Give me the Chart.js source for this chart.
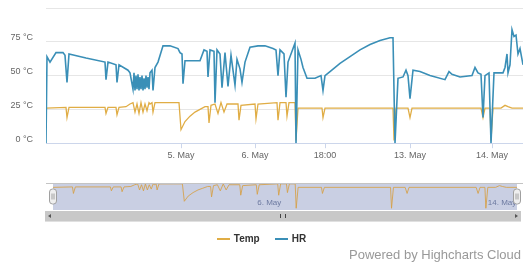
<!DOCTYPE html>
<html>
<head>
    <script src="https://cdn.jsdelivr.net/npm/chart.js"></script>
    <style>
        body {
            margin: 0;
            font-family: "Liberation Sans", Arial, sans-serif;
            background: #ffffff;
        }
        .wrap {
            position: relative;
            width: 523px;
            height: 263px;
            overflow: hidden;
        }
        #mainBox { position: absolute; left: 0; top: 0; width: 523px; height: 163px; }
        #navBox { position: absolute; left: 0; top: 180px; width: 523px; height: 34px; }
        .scrollbar {
            position: absolute; left: 45px; top: 211px; width: 476px; height: 10px;
            background: #c8c8c8; border-bottom: 1px solid #e0e0e0;
        }
        .scrollbar .arrow-l, .scrollbar .arrow-r {
            position: absolute; top: 3px; width: 0; height: 0;
            border-top: 2px solid transparent; border-bottom: 2px solid transparent;
        }
        .scrollbar .arrow-l { left: 3px; border-right: 3px solid #555; }
        .scrollbar .arrow-r { right: 3px; border-left: 3px solid #555; }
        .scrollbar .grip {
            position: absolute; left: 235px; top: 3px; width: 4px; height: 4px;
            border-left: 1px solid #444; border-right: 1px solid #444;
        }
        #legend {
            position: absolute; left: 0; top: 233px; width: 523px;
            display: flex; justify-content: center; gap: 15px;
            font-size: 10px; font-weight: bold; color: #333;
        }
        #legend .item { display: flex; align-items: center; gap: 4px; line-height: 12px; }
        #legend .sym { width: 13px; height: 2px; }
        .credits {
            position: absolute; right: 2px; top: 247px;
            font-size: 13px; color: #999;
        }
    </style>
</head>
<body>
<div class="wrap">
    <div id="mainBox"><canvas id="mainChart"></canvas></div>
    <div id="navBox"><canvas id="navChart"></canvas></div>
    <div class="scrollbar"><span class="arrow-l"></span><span class="grip"></span><span class="arrow-r"></span></div>
    <div id="legend"></div>
    <div class="credits">Powered by Highcharts Cloud</div>
</div>

<script>
// ordinal positions (one unit per reading slot) and readings
const hrPos = [0, 1, 4, 10, 17, 19, 21, 23, 40, 59, 60, 62, 70, 71, 73, 82, 84,
    87, 88, 89, 90, 91, 92, 93, 94, 95, 96, 97, 98, 99, 100, 101, 102, 103, 104,
    106, 107, 109, 112, 117, 124, 132, 134, 136, 137, 139, 154, 158, 161, 162, 164,
    168, 169, 171, 174, 176, 179, 182, 185, 189, 191, 194, 196, 199, 204, 212, 219,
    227, 230, 232, 234, 238, 240, 242, 246, 249, 250, 252, 255, 257, 261, 269, 275,
    277, 279, 284, 294, 304, 314, 324, 334, 344, 347, 349, 352, 357, 360, 362, 364,
    367, 374, 384, 399, 403, 406, 414, 426, 429, 432, 435, 437, 439, 443, 445, 448,
    457, 459, 461, 462, 464, 466, 468, 470, 472, 474, 476, 477];
const hrVal = [0, 64, 60, 67, 67, 65, 45, 66, 63, 60, 47, 60, 58, 45, 58, 54, 52,
    40, 52, 39, 50, 40, 51, 39, 49, 40, 50, 39, 48, 40, 50, 41, 49, 40, 52,
    54, 39, 56, 60, 72, 72, 70, 67, 66, 44, 61, 61, 69, 68, 49, 69,
    68, 30, 69, 66, 41, 67, 42, 65, 43, 62, 55, 45, 60, 71, 72, 72,
    70, 69, 50, 69, 66, 34, 60, 68, 74, 0, 69, 62, 56, 48, 48, 50,
    39, 50, 53, 59, 64, 69, 73, 76, 78, 78, 0, 48, 49, 54, 50, 33,
    54, 53, 50, 47, 53, 51, 49, 50, 56, 52, 51, 19, 50, 52, 0, 52,
    52, 56, 66, 52, 58, 84, 79, 80, 66, 70, 62, 58];

const tempPos = [0, 20, 21, 23, 59, 60, 62, 70, 71, 73, 80, 84,
    87, 89, 91, 93, 95, 97, 99, 101, 103, 104,
    106, 107, 109, 124, 133, 135, 139, 144, 149, 154, 159, 162, 163, 165,
    169, 172, 175, 178, 181, 185, 192, 193, 195, 209, 210, 212,
    231, 232, 234, 240, 241, 243, 249, 250, 252, 276, 277, 279, 347, 348, 350,
    362, 364, 366, 435, 437, 439, 444, 445, 447, 455, 459, 462, 466, 477];
const tempVal = [26, 26.5, 19, 26.5, 26.5, 22, 26.5, 26.5, 21, 26.5, 27, 29,
    30, 23, 29, 22, 30, 23, 29, 24, 30, 29,
    30, 23, 30, 30, 30, 10, 16, 20, 23, 25, 27, 27, 15, 28,
    29, 22, 30, 23, 29, 29, 29, 17, 28, 29, 18, 29,
    30, 17, 30, 30, 20, 30, 30, 2, 26, 26, 19, 26, 26, 2, 26,
    26, 19, 26, 26, 19, 26, 26, 2, 26, 26, 28, 27, 26, 26];

const tickPos = [135, 209, 279, 364, 446];
const tickLabels = ['5. May', '6. May', '18:00', '13. May', '14. May'];
const navTickPos = [209, 446];
const navTickLabels = ['6. May', '14. May'];
const yTicks = [0, 25, 50, 75, 100];

const tempColor = '#e0ad45';
const hrColor = '#3a8fb7';
const fontFamily = '"Liberation Sans", Arial, sans-serif';

function toXY(pos, val) {
    return pos.map((p, i) => ({ x: p, y: val[i] }));
}

const mainChart = new Chart(document.getElementById('mainChart'), {
    type: 'line',
    data: {
        datasets: [
            {
                label: 'Temp',
                data: toXY(tempPos, tempVal),
                borderColor: tempColor,
                borderWidth: 1.3,
                pointRadius: 0,
                order: 2
            },
            {
                label: 'HR',
                data: toXY(hrPos, hrVal),
                borderColor: hrColor,
                borderWidth: 1.6,
                pointRadius: 0,
                order: 1
            }
        ]
    },
    options: {
        responsive: true,
        maintainAspectRatio: false,
        animation: false,
        layout: { padding: 0 },
        plugins: { legend: { display: false }, tooltip: { enabled: false } },
        scales: {
            x: {
                type: 'linear',
                min: 0,
                max: 477,
                afterBuildTicks: s => { s.ticks = tickPos.map(v => ({ value: v })); },
                ticks: {
                    callback: (v, i) => tickLabels[i],
                    font: { family: fontFamily, size: 9 },
                    color: '#666',
                    maxRotation: 0,
                    autoSkip: false,
                    padding: 2
                },
                grid: { drawOnChartArea: false, tickLength: 5, color: '#ccd6eb' },
                border: { color: '#ccd6eb' }
            },
            y: {
                min: 0,
                max: 100,
                afterBuildTicks: s => { s.ticks = yTicks.map(v => ({ value: v })); },
                afterFit: s => {
                    s.width = 46;
                    s.paddingTop = 8;
                    s.paddingBottom = 0;
                },
                ticks: {
                    callback: v => v === 100 ? '' : v + ' °C',
                    font: { family: fontFamily, size: 9 },
                    color: '#666',
                    padding: 13,
                    labelOffset: -4
                },
                grid: { color: '#e6e6e6', drawTicks: false },
                border: { display: false }
            }
        }
    }
});

// navigator mask, outline and handles
const navigatorDecor = {
    id: 'navigatorDecor',
    beforeDraw(chart) {
        const { ctx, chartArea: a } = chart;
        ctx.save();
        ctx.fillStyle = '#c9cfe3';
        ctx.fillRect(a.left, a.top, a.right - a.left, a.bottom - a.top);
        ctx.restore();
    },
    afterDraw(chart) {
        const { ctx, chartArea: a } = chart;
        ctx.save();
        ctx.strokeStyle = '#c4c4c4';
        ctx.lineWidth = 1;
        ctx.beginPath();
        ctx.moveTo(46, a.top + 0.5);
        ctx.lineTo(chart.width, a.top + 0.5);
        ctx.stroke();
        const mid = (a.top + a.bottom) / 2;
        [a.left, a.right].forEach(x => {
            ctx.fillStyle = '#efefef';
            ctx.strokeStyle = '#a0a0a0';
            ctx.beginPath();
            ctx.roundRect(x - 3.5, mid - 7.5, 7, 15, 3);
            ctx.fill();
            ctx.stroke();
            ctx.beginPath();
            ctx.moveTo(x - 1, mid - 3); ctx.lineTo(x - 1, mid + 3);
            ctx.moveTo(x + 1, mid - 3); ctx.lineTo(x + 1, mid + 3);
            ctx.stroke();
        });
        ctx.restore();
    }
};

new Chart(document.getElementById('navChart'), {
    type: 'line',
    data: {
        datasets: [{
            label: 'Temp',
            data: toXY(tempPos, tempVal),
            borderColor: 'rgba(214, 160, 70, 0.85)',
            borderWidth: 1,
            pointRadius: 0
        }]
    },
    options: {
        responsive: true,
        maintainAspectRatio: false,
        animation: false,
        layout: { padding: { left: 53, right: 6, top: 3, bottom: 4 } },
        plugins: { legend: { display: false }, tooltip: { enabled: false } },
        scales: {
            x: {
                type: 'linear',
                min: 0,
                max: 477,
                z: 1,
                afterBuildTicks: s => { s.ticks = navTickPos.map(v => ({ value: v })); },
                afterFit: s => { s.height = 0; },
                ticks: {
                    callback: (v, i) => navTickLabels[i],
                    align: 'start',
                    mirror: true,
                    labelOffset: 1,
                    padding: 2,
                    font: { family: fontFamily, size: 8 },
                    color: '#6d7aa0',
                    maxRotation: 0,
                    autoSkip: false
                },
                grid: { display: false, drawTicks: false },
                border: { display: false }
            },
            y: { display: false, min: 0, max: 31 }
        }
    },
    plugins: [navigatorDecor]
});

// legend from the main chart's series
const legend = document.getElementById('legend');
mainChart.data.datasets.forEach(ds => {
    const item = document.createElement('div');
    item.className = 'item';
    const sym = document.createElement('span');
    sym.className = 'sym';
    sym.style.background = ds.borderColor;
    const txt = document.createElement('span');
    txt.textContent = ds.label;
    item.appendChild(sym);
    item.appendChild(txt);
    legend.appendChild(item);
});
</script>
</body>
</html>
